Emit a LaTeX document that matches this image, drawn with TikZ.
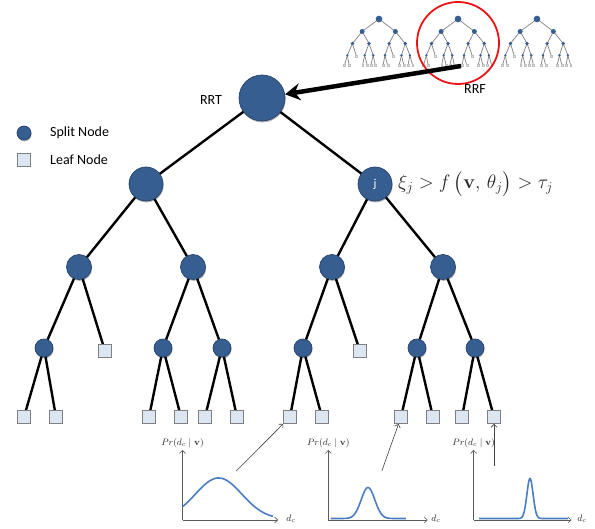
\RequirePackage{fix-cm}
\documentclass[tikz,border=0pt]{standalone}
\usepackage{amsmath}
\usepackage[no-math]{fontspec}
\newfontfamily\calib{Carlito}
\usetikzlibrary{arrows.meta,shadows}
\definecolor{nodeblue}{RGB}{54,94,145}
\definecolor{nodeedge}{RGB}{38,68,108}
\definecolor{leaffill}{RGB}{220,230,242}
\definecolor{leafedge}{RGB}{128,128,128}
\definecolor{curveblue}{RGB}{74,126,193}
\definecolor{axisgray}{RGB}{90,90,90}
\definecolor{arrgray}{RGB}{64,64,64}
\definecolor{ringred}{RGB}{235,20,20}
\pgfdeclarelayer{edgelayer}
\pgfsetlayers{edgelayer,main}
\tikzset{
  sshadow/.style={drop shadow={shadow xshift=0.6pt,shadow yshift=-1.4pt,opacity=0.3,fill=black}},
  snode/.style={circle,inner sep=0pt,fill=nodeblue,draw=nodeedge,line width=0.7pt,sshadow},
  lnode/.style={rectangle,inner sep=0pt,minimum size=13pt,fill=leaffill,draw=leafedge,line width=0.8pt},
  tedge/.style={black,line width=2.4pt},
  s0/.style={snode,minimum size=46pt},
  s1/.style={snode,minimum size=34pt},
  s2/.style={snode,minimum size=25pt},
  s3/.style={snode,minimum size=18pt},
  lbl/.style={font=\calib\fontsize{14}{16}\selectfont,inner sep=0pt},
  axis/.style={axisgray,line width=0.6pt,-{Straight Barb[length=3pt,width=6pt]}},
  thinarr/.style={arrgray,line width=0.6pt,-{Straight Barb[length=3pt,width=6pt]}},
  curve/.style={curveblue,line width=1.6pt},
  small/.style={font=\fontsize{9.3}{10}\selectfont,inner sep=0pt,text=black!85},
  pics/rtree/.style={code={
    \node[s0] (-r) at (0,0) {};
    \node[s1] (-a) at (-116,86) {};
    \node[s1,text=white,font=\calib\fontsize{12}{12}\selectfont] (-b) at (113,86) {#1};
    \node[s2] (-aa) at (-183,169) {};
    \node[s2] (-ab) at (-69,169) {};
    \node[s2] (-ba) at (70,169) {};
    \node[s2] (-bb) at (181,169) {};
    \node[s3] (-aaa) at (-218,250) {};
    \node[lnode] (-aab) at (-157,253) {};
    \node[s3] (-aba) at (-99,250) {};
    \node[s3] (-abb) at (-40,250) {};
    \node[s3] (-baa) at (41,250) {};
    \node[lnode] (-bab) at (98,253) {};
    \node[s3] (-bba) at (155,250) {};
    \node[s3] (-bbb) at (213,250) {};
    \node[lnode] (-l1) at (-238,319) {};
    \node[lnode] (-l2) at (-206,319) {};
    \node[lnode] (-l3) at (-113,319) {};
    \node[lnode] (-l4) at (-81,319) {};
    \node[lnode] (-l5) at (-57,319) {};
    \node[lnode] (-l6) at (-25,319) {};
    \node[lnode] (-l7) at (28,319) {};
    \node[lnode] (-l8) at (60,319) {};
    \node[lnode] (-l9) at (139,319) {};
    \node[lnode] (-l10) at (171,319) {};
    \node[lnode] (-l11) at (200,319) {};
    \node[lnode] (-l12) at (232,319) {};
    \begin{pgfonlayer}{edgelayer}
      \draw[tedge] (-r.center) -- (-a.center);
      \draw[tedge] (-r.center) -- (-b.center);
      \draw[tedge] (-a.center) -- (-aa.center);
      \draw[tedge] (-a.center) -- (-ab.center);
      \draw[tedge] (-b.center) -- (-ba.center);
      \draw[tedge] (-b.center) -- (-bb.center);
      \draw[tedge] (-aa.center) -- (-aaa.center);
      \draw[tedge] (-aa.center) -- (-aab.center);
      \draw[tedge] (-ab.center) -- (-aba.center);
      \draw[tedge] (-ab.center) -- (-abb.center);
      \draw[tedge] (-ba.center) -- (-baa.center);
      \draw[tedge] (-ba.center) -- (-bab.center);
      \draw[tedge] (-bb.center) -- (-bba.center);
      \draw[tedge] (-bb.center) -- (-bbb.center);
      \draw[tedge] (-aaa.center) -- (-l1.center);
      \draw[tedge] (-aaa.center) -- (-l2.center);
      \draw[tedge] (-aba.center) -- (-l3.center);
      \draw[tedge] (-aba.center) -- (-l4.center);
      \draw[tedge] (-abb.center) -- (-l5.center);
      \draw[tedge] (-abb.center) -- (-l6.center);
      \draw[tedge] (-baa.center) -- (-l7.center);
      \draw[tedge] (-baa.center) -- (-l8.center);
      \draw[tedge] (-bba.center) -- (-l9.center);
      \draw[tedge] (-bba.center) -- (-l10.center);
      \draw[tedge] (-bbb.center) -- (-l11.center);
      \draw[tedge] (-bbb.center) -- (-l12.center);
    \end{pgfonlayer}
  }},
  mini/.style={scale=0.145,transform shape,
    sshadow/.style={},
    snode/.style={circle,inner sep=0pt,fill=nodeblue,draw=none},
    lnode/.style={rectangle,inner sep=0pt,minimum size=13pt,fill=leaffill,draw=leafedge!50,line width=0.25pt},
    tedge/.style={gray,line width=0.7pt}}
}
\begin{document}
\begin{tikzpicture}[x=1pt,y=-1pt]
\useasboundingbox (0,0) rectangle (595,529);
% main tree
\pic (m) at (262,98) {rtree=j};
% mini forest
\begin{scope}[shift={(379,19)},mini] \pic (t1) {rtree={}}; \end{scope}
\begin{scope}[shift={(458,19)},mini] \pic (t2) {rtree={}}; \end{scope}
\begin{scope}[shift={(537,19)},mini] \pic (t3) {rtree={}}; \end{scope}
\node[circle,draw=ringred,line width=1.8pt,minimum size=82pt,inner sep=0pt] (ring) at (458,43) {};
% big arrow
\coordinate (rrfp) at (461,66);
\draw[black,line width=4.5pt,-{Stealth[length=15pt,width=17pt,inset=5pt]}] (rrfp) -- (m-r);
\node[lbl] (rrf) at (475,89) {RRF};
\node[lbl] (rrt) at (211,100) {RRT};
% legend
\node[snode,minimum size=14pt] (lgs) at (24,133) {};
\node[lbl,anchor=west] (lgst) at (50,133) {Split Node};
\node[lnode] (lgl) at (24,160) {};
\node[lbl,anchor=west] (lglt) at (50,160) {Leaf Node};
% split function
\node[anchor=west,inner sep=0pt,font=\fontsize{19.5}{22}\selectfont,text=black!85] (eq) at (398,184)
  {$\xi_j > f\,\bigl(\mathbf{v},\,\theta_j\bigr) > \tau_j$};
% plot 1
\coordinate (o1) at (182.5,520);
\coordinate (y1) at (182.5,450);
\coordinate (x1) at (278,520);
\draw[axis] (o1) -- (y1);
\draw[axis] (o1) -- (x1);
\node[small] (pr1) at (182.5,443) {$Pr(d_c\mid\mathbf{v})$};
\node[small] (dc1) at (291,519) {$d_c$};
\draw[curve] plot[domain=182.4:273,samples=70] (\x,{519-41*exp(-((\x-218.6)^2)/1080)});
% plot 2
\coordinate (o2) at (328.3,520);
\coordinate (y2) at (328.3,450);
\coordinate (x2) at (427.6,520);
\draw[axis] (o2) -- (y2);
\draw[axis] (o2) -- (x2);
\node[small] (pr2) at (328.3,443) {$Pr(d_c\mid\mathbf{v})$};
\node[small] (dc2) at (436,519) {$d_c$};
\draw[curve] plot[domain=330.6:405.8,samples=90] (\x,{518.5-31*exp(-min(((\x-368)^2)/92.5,15))});
% plot 3
\coordinate (o3) at (473.7,520);
\coordinate (y3) at (473.7,450);
\coordinate (x3) at (571.4,520);
\draw[axis] (o3) -- (y3);
\draw[axis] (o3) -- (x3);
\node[small] (pr3) at (473.7,443) {$Pr(d_c\mid\mathbf{v})$};
\node[small] (dc3) at (582,519) {$d_c$};
\draw[curve] plot[domain=479:568,samples=150] (\x,{518.5-40*exp(-min(((\x-530)^2)/19.2,15))});
% pointers from plots to leaves
\coordinate (p1) at (236.3,471);
\coordinate (p2) at (381.8,471);
\coordinate (p3) at (494,466);
\draw[thinarr] (p1) -- (m-l7);
\draw[thinarr] (p2) -- (m-l9);
\draw[thinarr] (p3) -- (m-l12);
\end{tikzpicture}
\end{document}
